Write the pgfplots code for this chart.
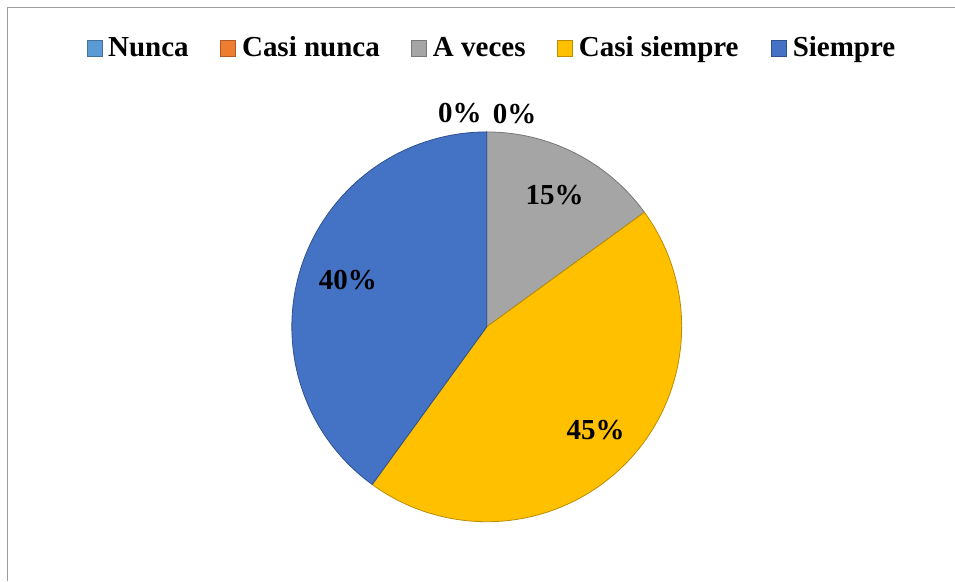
\documentclass[border=0pt]{standalone}
\usepackage{pgfplots}
\pgfplotsset{compat=1.18}
\usepackage{pgfplotstable}
\usepackage{fontspec}
\setmainfont{Liberation Serif}

\definecolor{c0}{HTML}{5B9BD5}\definecolor{c0d}{HTML}{41719C}
\definecolor{c1}{HTML}{ED7D31}\definecolor{c1d}{HTML}{AE5A21}
\definecolor{c2}{HTML}{A5A5A5}\definecolor{c2d}{HTML}{787878}
\definecolor{c3}{HTML}{FFC000}\definecolor{c3d}{HTML}{BC8C00}
\definecolor{c4}{HTML}{4472C4}\definecolor{c4d}{HTML}{2F528F}

% share of answers, in %, clockwise from the top
\pgfplotstableread{
name value
Nunca 0
CasiNunca 0
AVeces 15
CasiSiempre 45
Siempre 40
}\piedata

% start / end angle of each slice
\def\acc{90}
\pgfplotstableforeachcolumnelement{value}\of\piedata\as\v{%
  \pgfmathsetmacro\e{\acc-3.6*\v}%
  \expandafter\xdef\csname sa\pgfplotstablerow\endcsname{\acc}%
  \expandafter\xdef\csname ea\pgfplotstablerow\endcsname{\e}%
  \xdef\acc{\e}%
}

\begin{document}
\fontsize{29}{32}\selectfont\bfseries
\begin{tikzpicture}
\begin{axis}[
  x=1pt, y=1pt,
  xmin=0, xmax=955, ymin=0, ymax=581,
  hide axis, clip=false,
]
% whole picture area
\path (axis cs:0,0) (axis cs:955,581);
% frame
\draw[color=black!38, line width=1pt] (axis cs:7.5,0) -- (axis cs:7.5,573) -- (axis cs:955,573);

% slices (centre 487,254, radius 195)
\pgfplotsinvokeforeach{0,1,2,3,4}{
  \filldraw[fill=c#1, draw=c#1d, line width=0.8pt, line join=round]
    (axis cs:487,254) -- ++(\csname sa#1\endcsname:195pt)
    arc[start angle=\csname sa#1\endcsname, end angle=\csname ea#1\endcsname, radius=195pt] -- cycle;
}

% data labels
\node[inner sep=0] at (axis cs:460,468) {0\%};
\node[inner sep=0] at (axis cs:515,467) {0\%};
\node[inner sep=0] at (axis cs:555,386) {15\%};
\node[inner sep=0] at (axis cs:596,151) {45\%};
\node[inner sep=0] at (axis cs:348,301) {40\%};

% legend
\filldraw[fill=c0, draw=c0d, line width=0.8pt] (axis cs:87,525) rectangle (axis cs:102,541);
\node[anchor=base west, inner sep=0] at (axis cs:108,524) {Nunca};
\filldraw[fill=c1, draw=c1d, line width=0.8pt] (axis cs:221,525) rectangle (axis cs:236,541);
\node[anchor=base west, inner sep=0] at (axis cs:242,524) {Casi nunca};
\filldraw[fill=c2, draw=c2d, line width=0.8pt] (axis cs:412,525) rectangle (axis cs:427,541);
\node[anchor=base west, inner sep=0] at (axis cs:433,524) {A veces};
\filldraw[fill=c3, draw=c3d, line width=0.8pt] (axis cs:558,525) rectangle (axis cs:573,541);
\node[anchor=base west, inner sep=0] at (axis cs:579,524) {Casi siempre};
\filldraw[fill=c4, draw=c4d, line width=0.8pt] (axis cs:772,525) rectangle (axis cs:787,541);
\node[anchor=base west, inner sep=0] at (axis cs:793,524) {Siempre};
\end{axis}
\end{tikzpicture}
\end{document}
